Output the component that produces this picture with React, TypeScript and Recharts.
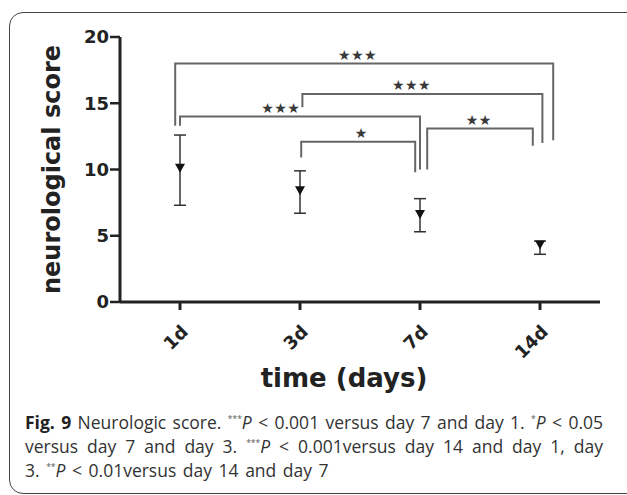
import React from 'react';
import { ScatterChart, Scatter, XAxis, YAxis, ErrorBar } from 'recharts';

// ---- data ----
const categories = ['1d', '3d', '7d', '14d'];
const means = [10.1, 8.4, 6.6, 4.3];
const errDown = [2.8, 1.7, 1.3, 0.7];
const errUp = [2.5, 1.5, 1.2, 0.3];
const yTicks = [0, 5, 10, 15, 20];

// significance brackets (x in category-index units, y in score units)
const bracketLabels = ['★★★', '★★★', '★★★', '★', '★★'];
const bracketX1 = [0.96, 2.02, 1.0, 2.01, 3.06];
const bracketX2 = [4.11, 4.02, 3.0, 2.96, 3.94];
const bracketTop = [18.0, 15.7, 14.0, 12.1, 13.1];
const bracketLeftEnd = [13.3, 14.7, 13.3, 10.9, 10.0];
const bracketRightEnd = [12.2, 12.0, 10.0, 9.8, 11.8];
const bracketLabelX = [2.48, 2.93, 1.84, 2.51, 3.49];
const bracketLabelY = [18.0, 15.7, 14.0, 12.1, 13.1];

const meanData = categories.map((c, i) => ({
  x: i + 1,
  y: means[i],
  err: [errDown[i], errUp[i]],
}));

const bracketData = bracketLabels.map((_, i) => [
  { x: bracketX1[i], y: bracketLeftEnd[i] },
  { x: bracketX1[i], y: bracketTop[i] },
  { x: bracketX2[i], y: bracketTop[i] },
  { x: bracketX2[i], y: bracketRightEnd[i] },
]);

const labelData = bracketLabels.map((l, i) => ({
  x: bracketLabelX[i],
  y: bracketLabelY[i],
  label: l,
}));

const CHART_FONT = '"DejaVu Sans", sans-serif';

const TriangleDown = (props: any) => {
  const { cx, cy } = props;
  return (
    <path
      d={`M${cx - 5},${cy - 4.5} L${cx + 5},${cy - 4.5} L${cx},${cy + 4.5} Z`}
      fill="#111"
    />
  );
};

const NoShape = () => <g />;

const StarLabel = (props: any) => {
  const { cx, cy, payload } = props;
  return (
    <text
      x={cx}
      y={cy - 3.5}
      textAnchor="middle"
      fontFamily={CHART_FONT}
      fontSize={14}
      letterSpacing={0.5}
      fill="#3a3a3a"
    >
      {payload.label}
    </text>
  );
};

const XTick = (props: any) => {
  const { x, y, payload } = props;
  const ax = x + 9;
  const ay = y + 21;
  return (
    <text
      x={ax}
      y={ay}
      transform={`rotate(-45 ${ax} ${ay})`}
      textAnchor="end"
      fontFamily={CHART_FONT}
      fontWeight="bold"
      fontSize={18}
      fill="#222"
    >
      {categories[payload.value - 1]}
    </text>
  );
};

const XTitle = (props: any) => {
  const { viewBox } = props;
  return (
    <text
      x={viewBox.x + viewBox.width / 2 - 16}
      y={viewBox.y + 85}
      textAnchor="middle"
      fontFamily={CHART_FONT}
      fontWeight="bold"
      fontSize={26}
      fill="#222"
    >
      time (days)
    </text>
  );
};

const YTitle = (props: any) => {
  const { viewBox } = props;
  const x = viewBox.x + 60;
  const y = viewBox.y + viewBox.height / 2;
  return (
    <text
      x={x}
      y={y}
      transform={`rotate(-90 ${x} ${y})`}
      textAnchor="middle"
      fontFamily={CHART_FONT}
      fontWeight="bold"
      fontSize={24}
      fill="#222"
    >
      neurological score
    </text>
  );
};

const sup = (s: string) => (
  <span style={{ fontSize: 8.5, position: 'relative', top: -7, color: '#555' }}>{s}</span>
);

export default function App() {
  const captionLine: React.CSSProperties = {
    width: 578,
    textAlign: 'justify',
    textAlignLast: 'justify',
    height: 24,
    whiteSpace: 'nowrap',
  };
  return (
    <div
      style={{
        position: 'absolute',
        left: 0,
        top: 0,
        width: 627,
        height: 495,
        overflow: 'hidden',
        background: '#fff',
      }}
    >
      <div
        style={{
          position: 'absolute',
          left: 9,
          top: 12,
          width: 640,
          height: 482,
          border: '1.5px solid #444',
          borderRadius: 14,
          boxSizing: 'border-box',
        }}
      />
      <div style={{ position: 'absolute', left: 0, top: 0 }}>
        <ScatterChart
          width={627}
          height={495}
          margin={{ top: 37, right: 27, left: 0, bottom: 133 }}
        >
          <XAxis
            type="number"
            dataKey="x"
            domain={[0.5, 4.5]}
            ticks={[1, 2, 3, 4]}
            allowDataOverflow
            height={60}
            axisLine={{ stroke: '#222', strokeWidth: 3 }}
            tickLine={{ stroke: '#222', strokeWidth: 3 }}
            tickSize={8}
            tick={<XTick />}
            label={<XTitle />}
          />
          <YAxis
            type="number"
            dataKey="y"
            domain={[0, 20]}
            ticks={yTicks}
            allowDataOverflow
            width={120}
            axisLine={{ stroke: '#222', strokeWidth: 3 }}
            tickLine={{ stroke: '#222', strokeWidth: 2.5 }}
            tickSize={10}
            tickMargin={1}
            tick={{
              fontFamily: CHART_FONT,
              fontWeight: 'bold',
              fontSize: 18,
              fill: '#222',
            }}
            label={<YTitle />}
          />
          {bracketData.map((d, i) => (
            <Scatter
              key={`br${i}`}
              data={d}
              isAnimationActive={false}
              line={{ stroke: '#666', strokeWidth: 2 }}
              lineJointType="linear"
              shape={<NoShape />}
            />
          ))}
          <Scatter
            data={labelData}
            isAnimationActive={false}
            shape={<StarLabel />}
          />
          <Scatter
            data={meanData}
            isAnimationActive={false}
            shape={<TriangleDown />}
          >
            <ErrorBar
              dataKey="err"
              direction="y"
              width={6}
              stroke="#333"
              strokeWidth={1.5}
              isAnimationActive={false}
            />
          </Scatter>
        </ScatterChart>
      </div>
      <div
        style={{
          position: 'absolute',
          left: 25,
          top: 410,
          fontFamily: '"Open Sans", sans-serif',
          fontSize: 17.5,
          fontStretch: '94%',
          lineHeight: '24px',
          color: '#333',
        }}
      >
        <div style={captionLine}>
          <b style={{ color: '#222' }}>Fig. 9</b> Neurologic score. {sup('***')}
          <i>P</i> &lt; 0.001 versus day 7 and day 1. {sup('*')}
          <i>P</i> &lt; 0.05
        </div>
        <div style={captionLine}>
          versus day 7 and day 3. {sup('***')}
          <i>P</i> &lt; 0.001versus day 14 and day 1, day
        </div>
        <div style={{ height: 24, whiteSpace: 'nowrap', wordSpacing: 2 }}>
          3. {sup('**')}
          <i>P</i> &lt; 0.01versus day 14 and day 7
        </div>
      </div>
    </div>
  );
}
